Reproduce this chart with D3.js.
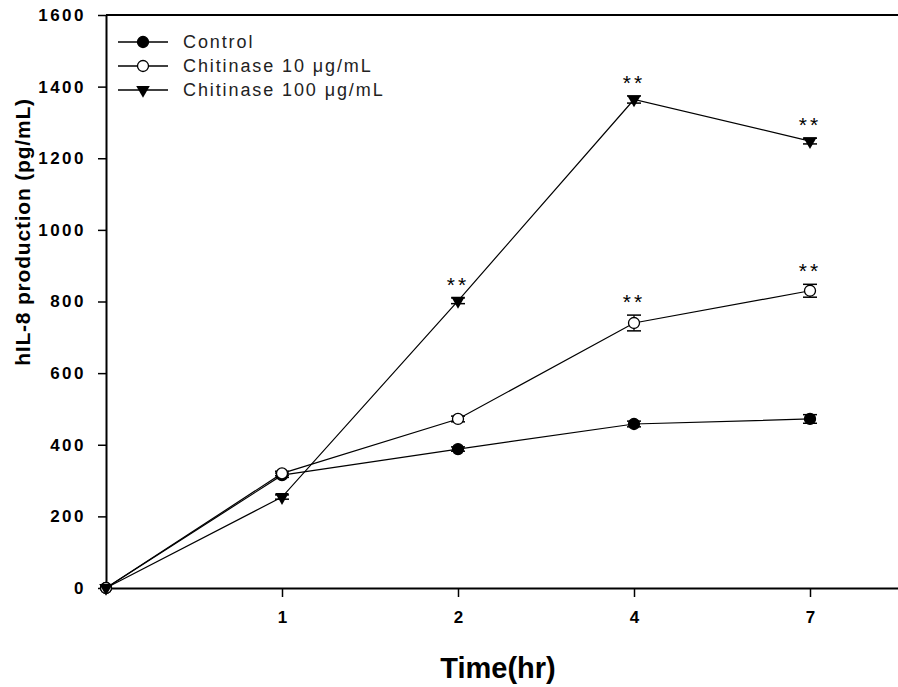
<!DOCTYPE html>
<html>
<head>
<meta charset="utf-8">
<script src="https://cdn.jsdelivr.net/npm/d3@7"></script>
<style>
  body { margin: 0; background: #fff; }
  svg { display: block; }
</style>
</head>
<body>
<div id="chart"></div>
<script>
// chart data
const timeLabels = ["", "1", "2", "4", "7"];
const yTicks = [0, 200, 400, 600, 800, 1000, 1200, 1400, 1600];
const seriesNames = ["Control", "Chitinase 10 \u03bcg/mL", "Chitinase 100 \u03bcg/mL"];
const controlValues = [0, 315, 388, 458, 472];
const chit10Values = [0, 320, 472, 740, 830];
const chit100Values = [0, 254, 802, 1364, 1248];
const controlErr = [0, 6, 6, 8, 12];
const chit10Err = [0, 6, 8, 22, 18];
const chit100Err = [0, 6, 8, 10, 8];
// significance marks: [series index, time index]
const starMarks = [[2, 2], [2, 3], [2, 4], [1, 3], [1, 4]];

const W = 898, H = 687;
const svg = d3.select("#chart").append("svg")
    .attr("width", W)
    .attr("height", H);

let x = d3.scaleLinear().domain([0, 4.5]).range([106, 898]);
let y = d3.scaleLinear().domain([0, 1600]).range([588, 15]);

const font = "'Liberation Sans', Arial, sans-serif";

// top frame line
svg.append("line")
    .attr("x1", x(0)).attr("x2", x(4.5))
    .attr("y1", y(1600)).attr("y2", y(1600))
    .attr("stroke", "#000").attr("stroke-width", 2);

// y axis
let yAxis = svg.append("g")
    .attr("transform", "translate(" + x(0) + ",0)")
    .call(d3.axisLeft(y).tickValues(yTicks).tickSize(8).tickSizeOuter(0).tickPadding(12)
        .tickFormat(d3.format("d")));
yAxis.select(".domain").attr("stroke-width", 2);
yAxis.selectAll(".tick line").attr("stroke-width", 1.5);
yAxis.selectAll("text")
    .style("font-family", font)
    .style("font-size", "17px")
    .style("font-weight", "bold")
    .style("letter-spacing", "2.5px")
    .attr("fill", "#000");

// x axis
let xAxis = svg.append("g")
    .attr("transform", "translate(0," + y(0) + ")")
    .call(d3.axisBottom(x).tickValues([1, 2, 3, 4]).tickSize(9).tickSizeOuter(0).tickPadding(14)
        .tickFormat(function (d) { return timeLabels[d]; }));
xAxis.select(".domain").attr("stroke-width", 2);
xAxis.selectAll(".tick line").attr("stroke-width", 1.5);
xAxis.selectAll("text")
    .style("font-family", font)
    .style("font-size", "17px")
    .style("font-weight", "bold")
    .attr("fill", "#000");

// axis titles
svg.append("text")
    .attr("x", 498)
    .attr("y", 678)
    .attr("text-anchor", "middle")
    .style("font-family", font)
    .style("font-size", "29px")
    .style("font-weight", "bold")
    .text("Time(hr)");

svg.append("text")
    .attr("transform", "translate(30,232)rotate(-90)")
    .attr("text-anchor", "middle")
    .style("font-family", font)
    .style("font-size", "21px")
    .style("font-weight", "bold")
    .style("letter-spacing", "0.8px")
    .text("hIL-8 production (pg/mL)");

const allSeries = [
    { name: seriesNames[0], values: controlValues, err: controlErr, marker: "filled" },
    { name: seriesNames[1], values: chit10Values, err: chit10Err, marker: "open" },
    { name: seriesNames[2], values: chit100Values, err: chit100Err, marker: "triangle" }
];

const triangle = d3.symbol().type(d3.symbolTriangle).size(80);

function drawMarker(g, kind, px, py) {
    if (kind === "triangle") {
        g.append("path")
            .attr("d", triangle())
            .attr("transform", "translate(" + px + "," + py + ")rotate(180)")
            .attr("fill", "#000");
    } else {
        g.append("circle")
            .attr("cx", px).attr("cy", py).attr("r", 5.5)
            .attr("fill", kind === "filled" ? "#000" : "#fff")
            .attr("stroke", "#000").attr("stroke-width", 1.3);
    }
}

let line = d3.line()
    .x(function (d, i) { return x(i); })
    .y(function (d) { return y(d); });

allSeries.forEach(function (s) {
    let g = svg.append("g");
    g.append("path")
        .datum(s.values)
        .attr("d", line)
        .attr("fill", "none")
        .attr("stroke", "#000")
        .attr("stroke-width", 1.2);
    // error bars
    s.values.forEach(function (v, i) {
        if (!s.err[i]) return;
        let px = x(i), y1 = y(v + s.err[i]), y2 = y(v - s.err[i]);
        g.append("line").attr("x1", px).attr("x2", px).attr("y1", y1).attr("y2", y2)
            .attr("stroke", "#000").attr("stroke-width", 1.2);
        [y1, y2].forEach(function (yy) {
            g.append("line").attr("x1", px - 7).attr("x2", px + 7).attr("y1", yy).attr("y2", yy)
                .attr("stroke", "#000").attr("stroke-width", 1.5);
        });
    });
    s.values.forEach(function (v, i) {
        drawMarker(g, s.marker, x(i), y(v));
    });
});

// significance stars
starMarks.forEach(function (m) {
    let s = allSeries[m[0]];
    let v = s.values[m[1]];
    svg.append("text")
        .attr("x", x(m[1]))
        .attr("y", y(v + s.err[m[1]]) - 6)
        .attr("text-anchor", "middle")
        .style("font-family", font)
        .style("font-size", "21px")
        .style("letter-spacing", "3px")
        .attr("fill", "#000")
        .text("**");
});

// legend
let legend = svg.append("g").attr("transform", "translate(118,42)");
allSeries.forEach(function (s, i) {
    let row = legend.append("g").attr("transform", "translate(0," + (i * 24) + ")");
    row.append("line")
        .attr("x1", 0).attr("x2", 50).attr("y1", 0).attr("y2", 0)
        .attr("stroke", "#000").attr("stroke-width", 1.3);
    drawMarker(row, s.marker, 25, 0);
    row.append("text")
        .attr("x", 65)
        .attr("y", 6)
        .style("font-family", font)
        .style("font-size", "18px")
        .style("letter-spacing", "1.9px")
        .attr("fill", "#222")
        .text(s.name);
});
</script>
</body>
</html>
